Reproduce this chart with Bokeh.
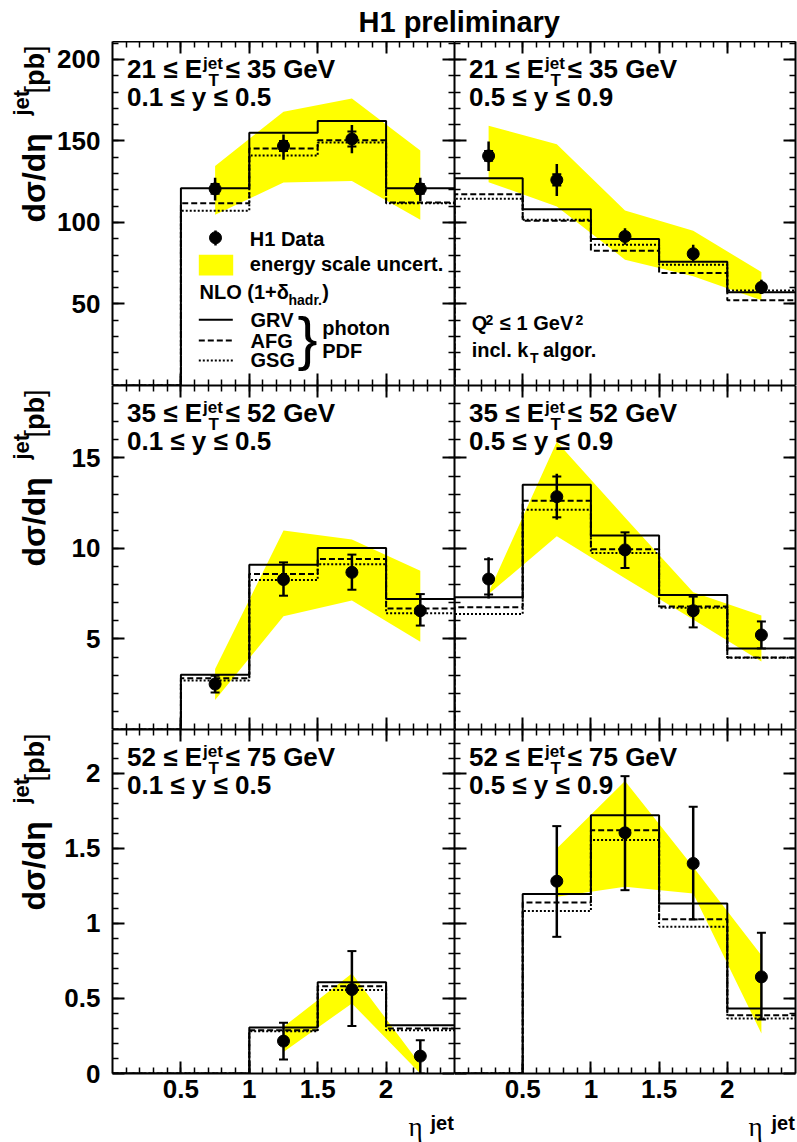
import numpy as np
from bokeh.plotting import figure
from bokeh.models import LinearAxis, FixedTicker, Range1d, Label, CustomJSTickFormatter
from bokeh.layouts import column, row
from bokeh.embed import file_html
from bokeh.resources import INLINE

FONT = "Liberation Sans"

# ---------------- data ----------------
eta_edges = [0.0, 0.5, 1.0, 1.5, 2.0, 2.5]
et_lo = ["21", "35", "52"]
et_hi = ["35", "52", "75"]
y_ranges = ["0.1 \u2264 y \u2264 0.5", "0.5 \u2264 y \u2264 0.9"]

# top-left: 21-35 GeV, 0.1<y<0.5
tl_x = [0.75, 1.25, 1.75, 2.25]
tl_y = [120.6, 146.9, 151.2, 120.6]
tl_tot_lo = [113.4, 138.4, 142.4, 113.0]
tl_tot_hi = [127.5, 154.0, 159.8, 127.5]
tl_stat_lo = [117.6, 143.9, 146.6, 117.6]
tl_stat_hi = [123.6, 149.9, 155.8, 123.6]
tl_grv = [0.0, 121.0, 155.0, 162.2, 121.0]
tl_afg = [0.0, 111.8, 145.3, 150.4, 112.2]
tl_gsg = [0.0, 107.2, 141.0, 149.0, 111.8]
tl_band_x = [0.75, 1.25, 1.75, 2.25]
tl_band_hi = [134.7, 167.9, 176.1, 144.1]
tl_band_lo = [104.7, 124.5, 125.5, 101.6]

# top-right: 21-35 GeV, 0.5<y<0.9
tr_x = [0.25, 0.75, 1.25, 1.75, 2.25]
tr_y = [140.8, 126.1, 91.4, 80.8, 60.2]
tr_tot_lo = [131.6, 116.3, 86.4, 75.7, 56.1]
tr_tot_hi = [149.6, 135.9, 96.5, 86.4, 64.9]
tr_stat_lo = [137.8, 122.6, 89.4, 78.8, 58.7]
tr_stat_hi = [143.8, 129.6, 93.4, 82.8, 61.7]
tr_grv = [127.1, 108.1, 89.8, 75.9, 57.2]
tr_afg = [117.3, 101.0, 82.7, 69.0, 52.3]
tr_gsg = [114.5, 101.6, 86.4, 74.1, 58.2]
tr_band_x = [0.25, 0.75, 1.25, 1.75, 2.25]
tr_band_hi = [159.4, 147.9, 107.3, 94.9, 69.6]
tr_band_lo = [124.7, 109.8, 77.2, 67.0, 52.3]

# middle-left: 35-52 GeV, 0.1<y<0.5
ml_x = [0.75, 1.25, 1.75, 2.25]
ml_y = [2.51, 8.28, 8.68, 6.56]
ml_tot_lo = [2.05, 7.39, 7.72, 5.74]
ml_tot_hi = [2.97, 9.23, 9.66, 7.48]
ml_stat_lo = [2.05, 7.39, 7.72, 5.74]
ml_stat_hi = [2.97, 9.23, 9.66, 7.48]
ml_grv = [0.0, 3.03, 9.10, 10.03, 7.21]
ml_afg = [0.0, 2.83, 8.59, 9.42, 6.69]
ml_gsg = [0.0, 2.70, 8.26, 9.13, 6.42]
ml_band_x = [0.75, 1.25, 1.75, 2.25]
ml_band_hi = [3.34, 10.99, 10.49, 8.77]
ml_band_lo = [1.63, 6.25, 7.12, 4.85]

# middle-right: 35-52 GeV, 0.5<y<0.9
mr_x = [0.25, 0.75, 1.25, 1.75, 2.25]
mr_y = [8.31, 12.86, 9.92, 6.56, 5.22]
mr_tot_lo = [7.23, 11.59, 8.92, 5.64, 4.48]
mr_tot_hi = [9.51, 14.13, 10.89, 7.34, 5.97]
mr_stat_lo = [7.46, 11.72, 8.92, 5.64, 4.48]
mr_stat_hi = [9.40, 13.97, 10.89, 7.34, 5.97]
mr_grv = [7.30, 13.52, 10.71, 7.43, 4.48]
mr_afg = [6.75, 12.64, 9.96, 6.80, 3.98]
mr_gsg = [6.38, 12.14, 9.75, 6.72, 3.96]
mr_band_x = [0.25, 0.75, 1.25, 1.75, 2.25]
mr_band_hi = [7.57, 15.90, 11.71, 7.58, 6.29]
mr_band_lo = [7.48, 10.67, 8.35, 6.08, 3.75]

# bottom-left: 52-75 GeV, 0.1<y<0.5
bl_x = [1.25, 1.75, 2.25]
bl_y = [0.216, 0.56, 0.116]
bl_tot_lo = [0.093, 0.316, 0.0]
bl_tot_hi = [0.338, 0.816, 0.222]
bl_stat_lo = [0.093, 0.316, 0.0]
bl_stat_hi = [0.338, 0.816, 0.222]
bl_grv = [0.0, 0.0, 0.307, 0.609, 0.322]
bl_afg = [0.0, 0.0, 0.289, 0.582, 0.300]
bl_gsg = [0.0, 0.0, 0.282, 0.556, 0.289]
bl_band_x = [1.25, 1.75, 2.25]
bl_band_hi = [0.311, 0.667, 0.06]
bl_band_lo = [0.144, 0.467, 0.0]

# bottom-right: 52-75 GeV, 0.5<y<0.9
br_x = [0.75, 1.25, 1.75, 2.25]
br_y = [1.282, 1.604, 1.40, 0.644]
br_tot_lo = [0.911, 1.222, 1.027, 0.36]
br_tot_hi = [1.649, 1.982, 1.778, 0.938]
br_stat_lo = [0.911, 1.222, 1.027, 0.36]
br_stat_hi = [1.649, 1.982, 1.778, 0.938]
br_grv = [0.0, 1.196, 1.722, 1.133, 0.433]
br_afg = [0.0, 1.14, 1.622, 1.029, 0.389]
br_gsg = [0.0, 1.084, 1.556, 0.978, 0.367]
br_band_x = [0.75, 1.25, 1.75, 2.25]
br_band_hi = [1.50, 1.949, 1.376, 0.789]
br_band_lo = [1.178, 1.244, 1.20, 0.267]

x_major = [0.5, 1.0, 1.5, 2.0]
x_minor = [round(v, 2) for v in np.arange(0.1, 2.5, 0.1)]
y_major = [[50, 100, 150, 200], [5, 10, 15], [0, 0.5, 1, 1.5, 2]]
y_minor = [list(np.arange(10, 211, 10)), list(np.arange(1, 19, 1)),
           [round(v, 2) for v in np.arange(0.1, 2.29, 0.1)]]
y_max = [211.0, 19.0, 2.293]

FH = 344
FW = [342, 341]
YT_W = 53          # width of the y-title strip
BOT = 37           # border under bottom row (tick labels)
TITLE_H = 41
XT_H = 1142 - TITLE_H - 3 * FH - BOT
DESC = 0.21        # descent fraction used to turn a baseline into a box bottom


def step_xy(edges, vals):
    xs, ys = [edges[0]], [0.0]
    for i, v in enumerate(vals):
        xs += [edges[i], edges[i + 1]]
        ys += [v, v]
    return xs, ys


def lab(p, x, ytop, text, size, bold=True, font=FONT, rot=False, h=FH):
    """x, ytop: baseline start, measured from frame left / frame top."""
    if rot:
        x = x + DESC * size
    else:
        ytop = ytop + DESC * size
    p.add_layout(Label(x=x, y=h - ytop, x_units="screen", y_units="screen", text=text,
                       text_font=font, text_font_size=f"{size}px",
                       text_font_style="bold" if bold else "normal",
                       text_align="left", text_baseline="bottom",
                       angle=np.pi / 2 if rot else 0.0, text_color="black"))


def blank_fig(w, h):
    f = figure(width=w, height=h, x_range=Range1d(0, 1), y_range=Range1d(0, 1),
               x_axis_type=None, y_axis_type=None, toolbar_location=None,
               output_backend="svg", min_border=0)
    f.outline_line_color = None
    return f


def make_fig(r, c):
    fw = FW[c]
    p = figure(frame_width=fw, frame_height=FH,
               x_range=Range1d(0, 2.5), y_range=Range1d(0, y_max[r]),
               x_axis_type=None, y_axis_type=None, toolbar_location=None,
               output_backend="svg",
               min_border_left=112 - YT_W if c == 0 else 0,
               min_border_right=0 if c == 0 else 2,
               min_border_top=0, min_border_bottom=BOT if r == 2 else 0)
    p.outline_line_color = None
    p.background_fill_color = "white"
    p.border_fill_color = "white"
    fmt = CustomJSTickFormatter(code="return tick.toString();")
    for side in ("left", "right", "above", "below"):
        if side in ("left", "right"):
            ticker = FixedTicker(ticks=y_major[r], minor_ticks=y_minor[r])
            show = side == "left" and c == 0
        else:
            ticker = FixedTicker(ticks=x_major, minor_ticks=x_minor)
            show = side == "below" and r == 2
        ax = LinearAxis(ticker=ticker, formatter=fmt, axis_line_width=2,
                        axis_line_color="black",
                        major_tick_in=12, major_tick_out=0,
                        minor_tick_in=6, minor_tick_out=0,
                        major_tick_line_width=2, minor_tick_line_width=1.5,
                        major_tick_line_color="black", minor_tick_line_color="black")
        if show:
            ax.major_label_text_font = FONT
            ax.major_label_text_font_size = "26px"
            ax.major_label_text_font_style = "bold"
            ax.major_label_text_color = "black"
            ax.major_label_standoff = 12 if side == "left" else 6
        else:
            ax.major_label_text_font_size = "0px"
            ax.major_label_text_alpha = 0
            ax.major_label_standoff = 0
        p.add_layout(ax, side)
    return p


def draw(p, bx, bhi, blo, grv, afg, gsg, x, y, tlo, thi, slo, shi):
    p.patch(bx + bx[::-1], bhi + blo[::-1], fill_color="#ffff00", line_color=None)
    for vals, dash in ((gsg, "2 2"), (afg, "6 3"), (grv, "solid")):
        xs, ys = step_xy(eta_edges, vals)
        p.line(xs, ys, line_color="black", line_width=2, line_dash=dash)
    p.segment(x, tlo, x, thi, line_color="black", line_width=2.5)
    p.scatter(x, slo, marker="dash", size=9, line_color="black", line_width=2)
    p.scatter(x, shi, marker="dash", size=9, line_color="black", line_width=2)
    p.scatter(x, y, size=12, fill_color="black", line_color="black")


def panel_text(p, r, c):
    lab(p, 14.5, 37, et_lo[r] + " \u2264 E", 26)
    lab(p, 90.5, 27.5, "jet", 17)
    lab(p, 96, 45, "T", 17)
    lab(p, 113, 37, "\u2264 " + et_hi[r] + " GeV", 26)
    lab(p, 14.5, 65, y_ranges[c], 26)


panels = [
    [(tl_band_x, tl_band_hi, tl_band_lo, tl_grv, tl_afg, tl_gsg, tl_x, tl_y, tl_tot_lo, tl_tot_hi, tl_stat_lo, tl_stat_hi),
     (tr_band_x, tr_band_hi, tr_band_lo, tr_grv, tr_afg, tr_gsg, tr_x, tr_y, tr_tot_lo, tr_tot_hi, tr_stat_lo, tr_stat_hi)],
    [(ml_band_x, ml_band_hi, ml_band_lo, ml_grv, ml_afg, ml_gsg, ml_x, ml_y, ml_tot_lo, ml_tot_hi, ml_stat_lo, ml_stat_hi),
     (mr_band_x, mr_band_hi, mr_band_lo, mr_grv, mr_afg, mr_gsg, mr_x, mr_y, mr_tot_lo, mr_tot_hi, mr_stat_lo, mr_stat_hi)],
    [(bl_band_x, bl_band_hi, bl_band_lo, bl_grv, bl_afg, bl_gsg, bl_x, bl_y, bl_tot_lo, bl_tot_hi, bl_stat_lo, bl_stat_hi),
     (br_band_x, br_band_hi, br_band_lo, br_grv, br_afg, br_gsg, br_x, br_y, br_tot_lo, br_tot_hi, br_stat_lo, br_stat_hi)],
]

figs = [[None, None] for _ in range(3)]
for r in range(3):
    for c in range(2):
        p = make_fig(r, c)
        draw(p, *panels[r][c])
        panel_text(p, r, c)
        figs[r][c] = p

# ---- legend in top-left panel ----
p = figs[0][0]


def rel(xr, yt, r=0, c=0):
    return xr / FW[c] * 2.5, y_max[r] * (1 - yt / FH)


cx, cy = rel(103, 196.3)
_, e0 = rel(0, 189)
_, e1 = rel(0, 204)
p.segment([cx], [e0], [cx], [e1], line_color="black", line_width=2.5)
p.scatter([cx], [cy], size=12, fill_color="black", line_color="black")
bx0, bt = rel(86.3, 213.3)
bx1, bb = rel(120.7, 234)
p.quad(left=[bx0], right=[bx1], top=[bt], bottom=[bb], fill_color="#ffff00", line_color=None)
for yt, dash in ((278.3, "solid"), (299, "6 3"), (319, "2 2")):
    lx0, ly = rel(86.3, yt)
    lx1, _ = rel(120.3, yt)
    p.line([lx0, lx1], [ly, ly], line_color="black", line_width=2, line_dash=dash)
lab(p, 137.3, 204, "H1 Data", 20)
lab(p, 137.3, 229.7, "energy scale uncert.", 20)
lab(p, 87, 257.3, "NLO (1+\u03b4", 20)
lab(p, 176, 264, "hadr.", 14)
lab(p, 209.7, 257.3, ")", 20)
lab(p, 138, 285.7, "GRV", 20)
lab(p, 138, 306.7, "AFG", 20)
lab(p, 138, 325.7, "GSG", 20)
lab(p, 185, 318, "}", 60, bold=False)
lab(p, 209.7, 293, "photon", 20)
lab(p, 209.7, 316.7, "PDF", 20)

# ---- cut text in top-right panel ----
q = figs[0][1]
lab(q, 17.2, 288.5, "Q", 20)
lab(q, 31, 280.7, "2", 14)
lab(q, 45.5, 288.5, "\u2264 1 GeV", 20)
lab(q, 121, 280.7, "2", 14)
lab(q, 17.2, 315.7, "incl. k", 20)
lab(q, 75.5, 322, "T", 14)
lab(q, 88.5, 315.7, "algor.", 20)

# ---- y-axis titles (separate strips left of each row; frames align with panels) ----
# (rotated: ytop is where each piece starts, text runs upward)
ytitles = []
for r in range(3):
    f = blank_fig(YT_W, FH + (BOT if r == 2 else 0))
    lab(f, 45, 181, "d\u03c3/d\u03b7", 32, rot=True)
    lab(f, 29, 74, "jet", 22, rot=True)
    lab(f, 44, 52, "[", 27, bold=False, rot=True)
    lab(f, 44, 44.5, "pb", 27, rot=True)
    lab(f, 44, 11.5, "]", 27, bold=False, rot=True)
    ytitles.append(f)

# ---- x-axis titles strip ----
xt = blank_fig(797, XT_H)
for ex, jx in ((408, 430), (748, 771)):
    lab(xt, ex, 26, "\u03b7", 27, bold=False, font="Liberation Serif", h=XT_H)
    lab(xt, jx, 19, "jet", 20, h=XT_H)

# ---- title ----
title = blank_fig(797, TITLE_H)
lab(title, 358, 31.7, "H1 preliminary", 29, h=TITLE_H)

layout = column(title,
                row(ytitles[0], figs[0][0], figs[0][1]),
                row(ytitles[1], figs[1][0], figs[1][1]),
                row(ytitles[2], figs[2][0], figs[2][1]),
                xt)

open("out.html", "w").write(file_html(layout, INLINE))
